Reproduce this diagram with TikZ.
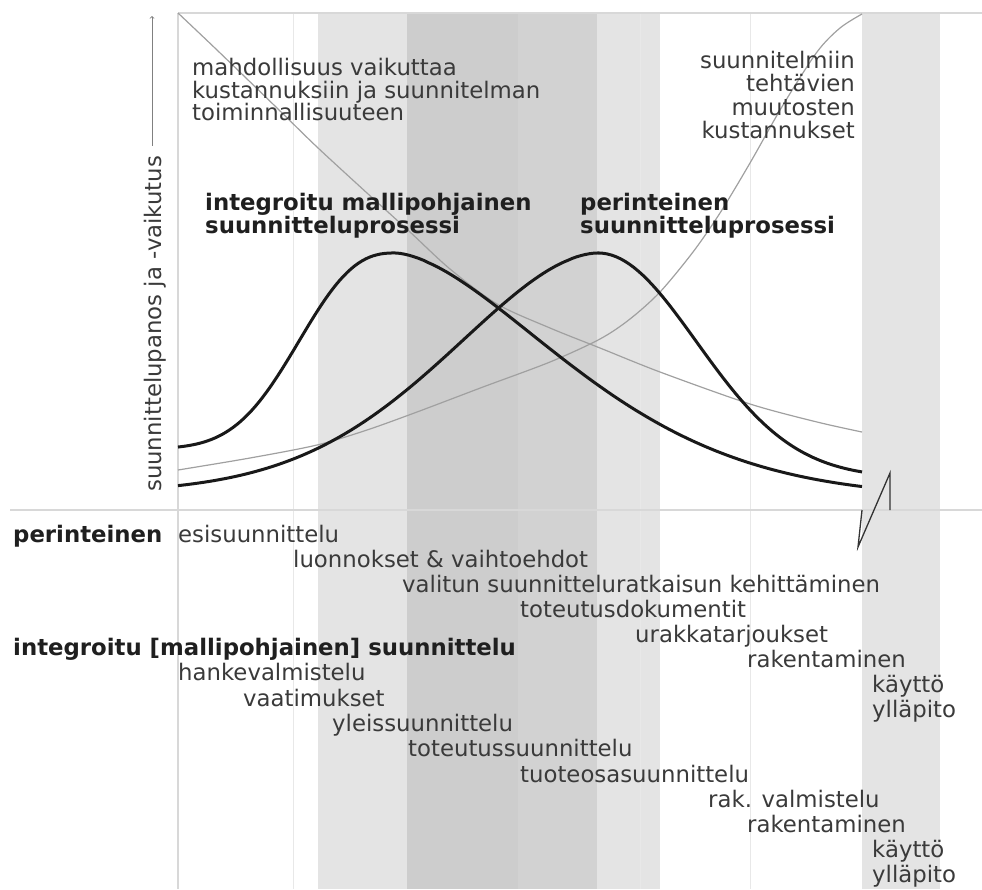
\documentclass[tikz,border=0pt]{standalone}
\usepackage{fontspec}
\setmainfont{DejaVu Sans}
\usetikzlibrary{positioning}
\definecolor{bandlight}{HTML}{E4E4E4}
\definecolor{banddark}{HTML}{CDCDCD}
\definecolor{banddarktwo}{HTML}{D2D2D2}
\definecolor{gridgray}{HTML}{D8D8D8}
\definecolor{txtgray}{HTML}{3A3A3A}
\definecolor{curvegray}{HTML}{A0A0A0}
\begin{document}
\begin{tikzpicture}[x=1pt, y=-1pt,
  every node/.style={inner sep=0pt, font=\fontsize{22.8}{22.5}\selectfont, text=txtgray},
  phase/.style={anchor=base west},
  head/.style={font=\fontsize{22.8}{22}\selectfont\bfseries, text=black!88},
  effort/.style={line width=3pt, black!90},
  impact/.style={line width=1.2pt, curvegray}]
        \useasboundingbox (0,0) rectangle (982,889);

        % phase bands
        \fill[bandlight] (318,13) rectangle (407,889);
        \fill[banddark] (407,13) rectangle (518,889);
        \fill[banddarktwo] (518,13) rectangle (597,889);
        \fill[bandlight] (597,13) rectangle (660,889);
        \fill[bandlight] (862,13) rectangle (940,889);
        \foreach \gx in {293,640,750}
          \draw[gridgray!60, line width=0.6pt] (\gx,13) -- (\gx,889);
        \draw[gridgray, line width=1.2pt] (178,13) -- (178,889);
        \draw[gridgray, line width=1.4pt] (178,13) -- (982,13);
        \draw[gridgray, line width=2pt] (10,510) -- (982,510);

        % curves
        \draw[impact] plot[smooth] coordinates {(178,13) (217,50) (277,108) (317,147) (367,193) (410,232) (450,269) (497,304) (550,328) (600,348) (660,372) (750,404) (817,422) (862,432)};
        \draw[impact] plot[smooth] coordinates {(178,470) (250,458) (317,445) (367,430) (417,412) (483,387) (550,362) (600,339) (630,319) (660,292) (693,252) (720,213) (750,163) (783,105) (817,52) (840,28) (862,14)};
        \draw[effort] plot[domain=178:395, samples=60] (\x,{449-196*exp(-pow((abs(\x-395)+0.01)/118,2.5))})
          -- plot[domain=395:862, samples=100] (\x,{498-245*exp(-pow((abs(\x-395)+0.01)/237,1.65))});
        \draw[effort] plot[domain=178:598, samples=100] (\x,{493-240*exp(-pow((abs(\x-598)+0.01)/210,1.8))})
          -- plot[domain=598:862, samples=60] (\x,{478-225*exp(-pow((abs(\x-598)+0.01)/139,2))});

        % axis break
        \draw[black!80, line width=1.3pt] (862,510) -- (858,547) -- (890,473) -- (890,510);

        % vertical axis
        \node[rotate=90, anchor=base west] (axlabel) at (161,492) {suunnittelupanos ja -vaikutus};
        \coordinate (axtop) at (152,16);
        \draw[->, gray, line width=0.8pt, shorten <=10pt] (axlabel.east -| axtop) -- (axtop);

        % curve labels
        \node[anchor=north west, align=left] (chance) at (192,58) {mahdollisuus vaikuttaa\\kustannuksiin ja suunnitelman\\toiminnallisuuteen};
        \node[anchor=north east, align=right, font=\fontsize{22.8}{23.3}\selectfont] (changecost) at (855,51) {suunnitelmiin\\tehtävien\\muutosten\\kustannukset};
        \node[head, anchor=north west, align=left] (intproc) at (205,193) {integroitu mallipohjainen\\suunnitteluprosessi};
        \node[head, anchor=north west, align=left] (tradproc) at (580,193) {perinteinen\\suunnitteluprosessi};

        % traditional phases
        \node[head, anchor=base west] (trad) at (13,542) {perinteinen};
        \node[phase] (t1) at (178,542) {esisuunnittelu};
        \node[phase] (t2) at (293,567) {luonnokset \& vaihtoehdot};
        \node[phase] (t3) at (402,592) {valitun suunnitteluratkaisun kehittäminen};
        \node[phase] (t4) at (520,617) {toteutusdokumentit};
        \node[phase] (t5) at (635,642) {urakkatarjoukset};
        \node[phase] (t6) at (747,667) {rakentaminen};
        \node[phase] (t7) at (872,692) {käyttö};
        \node[phase] (t8) at (872,717) {ylläpito};

        % integrated phases
        \node[head, anchor=base west] (integ) at (13,655) {integroitu [mallipohjainen] suunnittelu};
        \node[phase] (i1) at (178,680) {hankevalmistelu};
        \node[phase] (i2) at (243,706) {vaatimukset};
        \node[phase] (i3) at (332,731) {yleissuunnittelu};
        \node[phase] (i4) at (408,756) {toteutussuunnittelu};
        \node[phase] (i5) at (520,782) {tuoteosasuunnittelu};
        \node[phase] (i6) at (708,807) {rak. valmistelu};
        \node[phase] (i7) at (747,832) {rakentaminen};
        \node[phase] (i8) at (872,857) {käyttö};
        \node[phase] (i9) at (872,882) {ylläpito};
\end{tikzpicture}
\end{document}
